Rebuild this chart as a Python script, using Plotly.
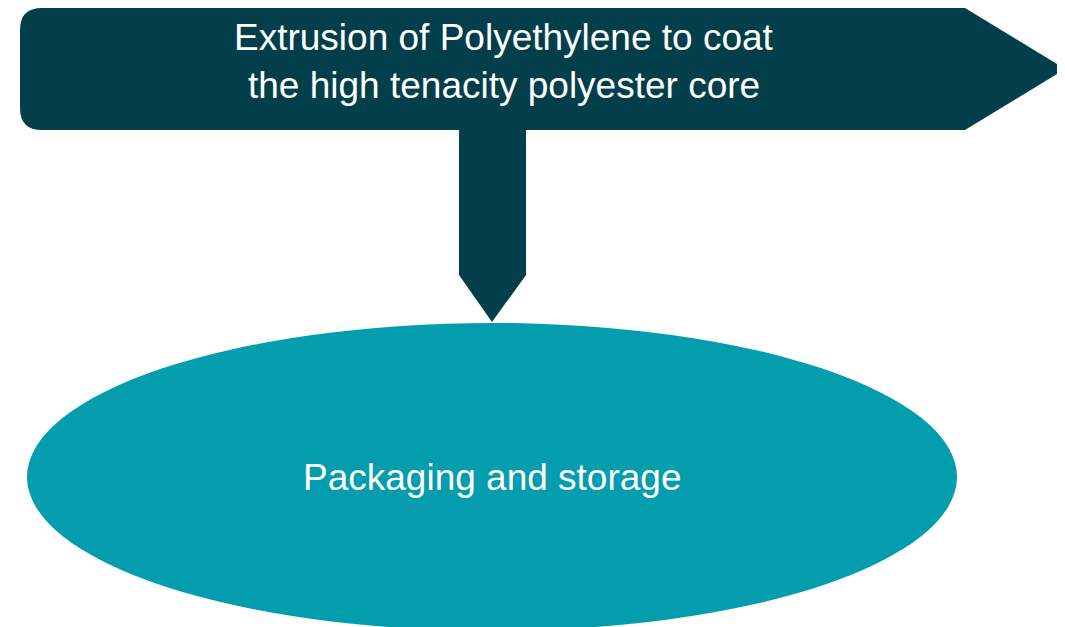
import plotly.graph_objects as go

# Diagram content
step_labels = ["Extrusion of Polyethylene to coat", "the high tenacity polyester core"]
final_label = ["Packaging and storage"]

W, H = 1065, 627
OFF = 8  # page body margin compensation
DARK = "#023F4B"
TEAL = "#039DAE"

fig = go.Figure()

# banner with arrow tip
banner = "M 42,8 L 965,8 L 1065,69 L 965,130 L 42,130 Q 20,130 20,108 L 20,30 Q 20,8 42,8 Z"
stem = "M 459,125 L 526,125 L 526,275 L 492,322 L 459,275 Z"

fig.add_shape(type="circle", xref="x", yref="y", x0=27, x1=957, y0=323, y1=631,
              fillcolor=TEAL, line=dict(width=0), layer="below")
fig.add_shape(type="path", path=stem, fillcolor=DARK, line=dict(width=0), layer="below")
fig.add_shape(type="path", path=banner, fillcolor=DARK, line=dict(width=0), layer="below")

font = dict(family="Liberation Sans, Arial, sans-serif", size=37, color="white")
for i, t in enumerate(step_labels):
    fig.add_annotation(x=504, y=37 + 48 * i, text=t, showarrow=False, font=font,
                       xanchor="center", yanchor="middle")
fig.add_annotation(x=492, y=477, text=final_label[0], showarrow=False, font=font,
                   xanchor="center", yanchor="middle")

fig.update_xaxes(range=[OFF, W + OFF], visible=False, showgrid=False, zeroline=False)
fig.update_yaxes(range=[H + OFF, OFF], visible=False, showgrid=False, zeroline=False)
fig.update_layout(width=W, height=H, margin=dict(l=0, r=0, t=0, b=0),
                  paper_bgcolor="white", plot_bgcolor="white", showlegend=False)

fig.write_html("out.html", config={"displayModeBar": False})
